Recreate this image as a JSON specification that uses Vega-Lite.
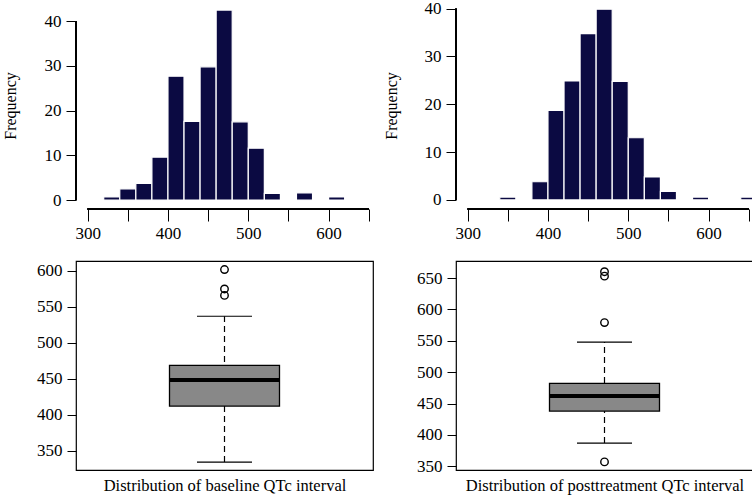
{
  "$schema": "https://vega.github.io/schema/vega-lite/v6.json",
  "autosize": {"type": "pad"},
  "padding": {"left": 2, "top": -1, "right": 0, "bottom": 0},
  "background": "white",
  "config": {
    "font": "Liberation Serif",
    "view": {"stroke": null},
    "axis": {
      "labelFont": "Liberation Serif",
      "titleFont": "Liberation Serif",
      "labelFontSize": 17,
      "titleFontSize": 16,
      "titleFontWeight": "normal",
      "labelColor": "black",
      "titleColor": "black",
      "tickColor": "black",
      "grid": false,
      "labelOverlap": false,
      "labelFlush": false,
      "tickCount": 20
    }
  },
  "datasets": {
    "hist_baseline": [
      {"bin_start": 320, "bin_end": 340, "count": 0.7},
      {"bin_start": 340, "bin_end": 360, "count": 2.5},
      {"bin_start": 360, "bin_end": 380, "count": 3.7},
      {"bin_start": 380, "bin_end": 400, "count": 9.6},
      {"bin_start": 400, "bin_end": 420, "count": 27.7},
      {"bin_start": 420, "bin_end": 440, "count": 17.6},
      {"bin_start": 440, "bin_end": 460, "count": 29.8},
      {"bin_start": 460, "bin_end": 480, "count": 42.5},
      {"bin_start": 480, "bin_end": 500, "count": 17.5},
      {"bin_start": 500, "bin_end": 520, "count": 11.6},
      {"bin_start": 520, "bin_end": 540, "count": 1.5},
      {"bin_start": 560, "bin_end": 580, "count": 1.6},
      {"bin_start": 600, "bin_end": 620, "count": 0.7}
    ],
    "hist_post": [
      {"bin_start": 340, "bin_end": 360, "count": 0.6},
      {"bin_start": 380, "bin_end": 400, "count": 3.8},
      {"bin_start": 400, "bin_end": 420, "count": 18.7},
      {"bin_start": 420, "bin_end": 440, "count": 24.9},
      {"bin_start": 440, "bin_end": 460, "count": 34.8},
      {"bin_start": 460, "bin_end": 480, "count": 39.9},
      {"bin_start": 480, "bin_end": 500, "count": 24.8},
      {"bin_start": 500, "bin_end": 520, "count": 13.0},
      {"bin_start": 520, "bin_end": 540, "count": 4.8},
      {"bin_start": 540, "bin_end": 560, "count": 1.8},
      {"bin_start": 580, "bin_end": 600, "count": 0.6},
      {"bin_start": 640, "bin_end": 660, "count": 0.6}
    ],
    "box_baseline": [{"lower": 334, "q1": 412, "median": 448.4, "q3": 468.5, "upper": 537}],
    "out_baseline": [{"value": 566}, {"value": 575}, {"value": 602}],
    "box_post": [{"lower": 387, "q1": 438, "median": 462, "q3": 482, "upper": 548}],
    "out_post": [{"value": 357}, {"value": 579}, {"value": 653}, {"value": 660}]
  },
  "columns": 2,
  "bounds": "flush",
  "spacing": {"row": 52, "column": 76},
  "concat": [
    {
      "width": 304,
      "height": 207,
      "data": {"name": "hist_baseline"},
      "layer": [
        {
          "mark": {"type": "bar", "fill": "#0b0a42", "stroke": "white", "strokeWidth": 1.2},
          "encoding": {
            "x": {"field": "bin_start", "type": "quantitative",
              "scale": {"domain": [285.5, 664], "nice": false, "zero": false},
              "axis": {"domain": false, "values": [300, 350, 400, 450, 500, 550, 600, 650], "tickCount": 20, "tickSize": 12, "labelPadding": 4, "title": null, "format": "d", "labelOverlap": false,
                "labelExpr": "datum.value % 100 == 0 ? datum.label : ''"}},
            "x2": {"field": "bin_end"},
            "y": {"field": "count", "type": "quantitative",
              "scale": {"domain": [-2.0, 44.3], "nice": false, "zero": false},
              "axis": {"domain": false, "values": [0, 10, 20, 30, 40], "tickCount": 20, "tickSize": 10, "labelPadding": 5, "labelOverlap": false, "title": "Frequency", "titleX": -65.5, "titleBaseline": "middle", "titleAngle": -90}},
            "y2": {"datum": 0}
          }
        },
        {
          "mark": {"type": "rule", "color": "black", "strokeWidth": 1},
          "encoding": {
            "x": {"datum": 300, "type": "quantitative"},
            "x2": {"datum": 650},
            "y": {"datum": -2.0, "type": "quantitative"}
          }
        },
        {
          "mark": {"type": "rule", "color": "black", "strokeWidth": 1},
          "encoding": {
            "x": {"datum": 285.5, "type": "quantitative"},
            "y": {"datum": 0, "type": "quantitative"},
            "y2": {"datum": 40}
          }
        }
      ]
    },
    {
      "width": 304,
      "height": 207,
      "data": {"name": "hist_post"},
      "layer": [
        {
          "mark": {"type": "bar", "fill": "#0b0a42", "stroke": "white", "strokeWidth": 1.2},
          "encoding": {
            "x": {"field": "bin_start", "type": "quantitative",
              "scale": {"domain": [285.5, 664], "nice": false, "zero": false},
              "axis": {"domain": false, "values": [300, 350, 400, 450, 500, 550, 600, 650], "tickCount": 20, "tickSize": 12, "labelPadding": 4, "title": null, "format": "d", "labelOverlap": false,
                "labelExpr": "datum.value % 100 == 0 && datum.value < 650 ? datum.label : ''"}},
            "x2": {"field": "bin_end"},
            "y": {"field": "count", "type": "quantitative",
              "scale": {"domain": [-1.9, 41.4], "nice": false, "zero": false},
              "axis": {"domain": false, "values": [0, 10, 20, 30, 40], "tickCount": 20, "tickSize": 10, "labelPadding": 5, "labelOverlap": false, "title": "Frequency", "titleX": -65, "titleBaseline": "middle", "titleAngle": -90}},
            "y2": {"datum": 0}
          }
        },
        {
          "mark": {"type": "rule", "color": "black", "strokeWidth": 1},
          "encoding": {
            "x": {"datum": 300, "type": "quantitative"},
            "x2": {"datum": 650},
            "y": {"datum": -1.9, "type": "quantitative"}
          }
        },
        {
          "mark": {"type": "rule", "color": "black", "strokeWidth": 1},
          "encoding": {
            "x": {"datum": 285.5, "type": "quantitative"},
            "y": {"datum": 0, "type": "quantitative"},
            "y2": {"datum": 40}
          }
        }
      ]
    },
    {
      "width": 297,
      "height": 209,
      "view": {"stroke": "black", "strokeWidth": 1.2},
      "layer": [
        {
          "data": {"name": "box_baseline"},
          "mark": {"type": "rule", "color": "black", "strokeDash": [6, 4], "strokeWidth": 1.2},
          "encoding": {
            "x": {"datum": 1, "type": "quantitative", "scale": {"domain": [0.46, 1.54], "nice": false, "zero": false},
              "axis": {"labels": false, "ticks": false, "domain": false, "title": "Distribution of baseline QTc interval", "titleFontSize": 16.5, "titlePadding": 7}},
            "y": {"field": "lower", "type": "quantitative", "title": null,
              "scale": {"domain": [323, 613.9], "nice": false, "zero": false},
              "axis": {"domain": false, "values": [350, 400, 450, 500, 550, 600], "tickCount": 20, "tickSize": 9, "labelPadding": 5, "labelOverlap": false, "title": null}},
            "y2": {"field": "upper"}
          }
        },
        {
          "data": {"name": "box_baseline"},
          "mark": {"type": "rule", "color": "black", "strokeWidth": 1.2},
          "encoding": {
            "x": {"datum": 0.9, "type": "quantitative", "scale": {"domain": [0.46, 1.54], "nice": false, "zero": false}},
            "x2": {"datum": 1.1},
            "y": {"field": "lower", "type": "quantitative", "title": null, "scale": {"domain": [323, 613.9], "nice": false, "zero": false}}
          }
        },
        {
          "data": {"name": "box_baseline"},
          "mark": {"type": "rule", "color": "black", "strokeWidth": 1.2},
          "encoding": {
            "x": {"datum": 0.9, "type": "quantitative", "scale": {"domain": [0.46, 1.54], "nice": false, "zero": false}},
            "x2": {"datum": 1.1},
            "y": {"field": "upper", "type": "quantitative", "title": null, "scale": {"domain": [323, 613.9], "nice": false, "zero": false}}
          }
        },
        {
          "data": {"name": "box_baseline"},
          "mark": {"type": "rect", "fill": "#888888", "stroke": "black", "strokeWidth": 1.3},
          "encoding": {
            "x": {"datum": 0.8, "type": "quantitative", "scale": {"domain": [0.46, 1.54], "nice": false, "zero": false}},
            "x2": {"datum": 1.2},
            "y": {"field": "q1", "type": "quantitative", "title": null, "scale": {"domain": [323, 613.9], "nice": false, "zero": false}},
            "y2": {"field": "q3"}
          }
        },
        {
          "data": {"name": "box_baseline"},
          "mark": {"type": "rule", "color": "black", "strokeWidth": 4},
          "encoding": {
            "x": {"datum": 0.8, "type": "quantitative", "scale": {"domain": [0.46, 1.54], "nice": false, "zero": false}},
            "x2": {"datum": 1.2},
            "y": {"field": "median", "type": "quantitative", "title": null, "scale": {"domain": [323, 613.9], "nice": false, "zero": false}}
          }
        },
        {
          "data": {"name": "out_baseline"},
          "mark": {"type": "point", "shape": "circle", "filled": false, "color": "black", "size": 56, "strokeWidth": 1.4, "opacity": 1},
          "encoding": {
            "x": {"datum": 1, "type": "quantitative", "scale": {"domain": [0.46, 1.54], "nice": false, "zero": false}},
            "y": {"field": "value", "type": "quantitative", "title": null, "scale": {"domain": [323, 613.9], "nice": false, "zero": false}}
          }
        }
      ]
    },
    {
      "width": 297,
      "height": 209,
      "view": {"stroke": "black", "strokeWidth": 1.2},
      "layer": [
        {
          "data": {"name": "box_post"},
          "mark": {"type": "rule", "color": "black", "strokeDash": [6, 4], "strokeWidth": 1.2},
          "encoding": {
            "x": {"datum": 1, "type": "quantitative", "scale": {"domain": [0.46, 1.54], "nice": false, "zero": false},
              "axis": {"labels": false, "ticks": false, "domain": false, "title": "Distribution of posttreatment QTc interval", "titleFontSize": 16.5, "titlePadding": 7}},
            "y": {"field": "lower", "type": "quantitative", "title": null,
              "scale": {"domain": [344.1, 677.1], "nice": false, "zero": false},
              "axis": {"domain": false, "values": [350, 400, 450, 500, 550, 600, 650], "tickCount": 20, "tickSize": 9, "labelPadding": 5, "labelOverlap": false, "title": null}},
            "y2": {"field": "upper"}
          }
        },
        {
          "data": {"name": "box_post"},
          "mark": {"type": "rule", "color": "black", "strokeWidth": 1.2},
          "encoding": {
            "x": {"datum": 0.9, "type": "quantitative", "scale": {"domain": [0.46, 1.54], "nice": false, "zero": false}},
            "x2": {"datum": 1.1},
            "y": {"field": "lower", "type": "quantitative", "title": null, "scale": {"domain": [344.1, 677.1], "nice": false, "zero": false}}
          }
        },
        {
          "data": {"name": "box_post"},
          "mark": {"type": "rule", "color": "black", "strokeWidth": 1.2},
          "encoding": {
            "x": {"datum": 0.9, "type": "quantitative", "scale": {"domain": [0.46, 1.54], "nice": false, "zero": false}},
            "x2": {"datum": 1.1},
            "y": {"field": "upper", "type": "quantitative", "title": null, "scale": {"domain": [344.1, 677.1], "nice": false, "zero": false}}
          }
        },
        {
          "data": {"name": "box_post"},
          "mark": {"type": "rect", "fill": "#888888", "stroke": "black", "strokeWidth": 1.3},
          "encoding": {
            "x": {"datum": 0.8, "type": "quantitative", "scale": {"domain": [0.46, 1.54], "nice": false, "zero": false}},
            "x2": {"datum": 1.2},
            "y": {"field": "q1", "type": "quantitative", "title": null, "scale": {"domain": [344.1, 677.1], "nice": false, "zero": false}},
            "y2": {"field": "q3"}
          }
        },
        {
          "data": {"name": "box_post"},
          "mark": {"type": "rule", "color": "black", "strokeWidth": 4},
          "encoding": {
            "x": {"datum": 0.8, "type": "quantitative", "scale": {"domain": [0.46, 1.54], "nice": false, "zero": false}},
            "x2": {"datum": 1.2},
            "y": {"field": "median", "type": "quantitative", "title": null, "scale": {"domain": [344.1, 677.1], "nice": false, "zero": false}}
          }
        },
        {
          "data": {"name": "out_post"},
          "mark": {"type": "point", "shape": "circle", "filled": false, "color": "black", "size": 56, "strokeWidth": 1.4, "opacity": 1},
          "encoding": {
            "x": {"datum": 1, "type": "quantitative", "scale": {"domain": [0.46, 1.54], "nice": false, "zero": false}},
            "y": {"field": "value", "type": "quantitative", "title": null, "scale": {"domain": [344.1, 677.1], "nice": false, "zero": false}}
          }
        }
      ]
    }
  ]
}
